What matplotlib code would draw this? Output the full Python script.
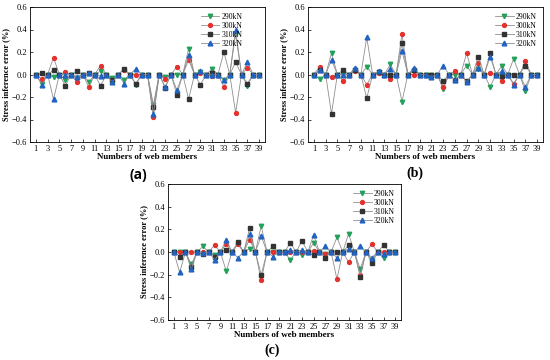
import matplotlib
matplotlib.use("Agg")
import matplotlib.pyplot as plt

plt.rcParams['font.family'] = ['Liberation Serif', 'DejaVu Serif']
plt.rcParams['axes.unicode_minus'] = True

members = list(range(1, 40))
loads = ['290kN', '300kN', '310kN', '320kN']

# (a)
a290 = [0, -0.08, 0, -0.02, 0, -0.05, 0, -0.03, 0, -0.07, 0, 0.03, 0, -0.03, 0, -0.05, 0, -0.09, 0, 0,
        -0.27, 0, -0.02, 0, 0.00, 0, 0.23, 0, 0.02, 0, 0.05, 0, -0.05, 0, 0.36, 0, -0.10, 0, 0]
a300 = [0, -0.04, 0, 0.15, 0, 0.02, 0, -0.07, 0, -0.11, 0, 0.08, 0, -0.06, 0, 0.04, 0, 0.00, 0, 0,
        -0.38, 0, -0.04, 0, 0.07, 0, 0.13, 0, 0.01, 0, -0.01, 0, -0.11, 0, -0.34, 0, 0.06, 0, 0]
a310 = [0, 0.01, 0, 0.04, 0, -0.10, 0, 0.03, 0, 0.01, 0, -0.10, 0, -0.05, 0, 0.05, 0, -0.08, 0, 0,
        -0.29, 0, -0.12, 0, -0.18, 0, -0.22, 0, -0.09, 0, 0.01, 0, 0.20, 0, 0.11, 0, -0.08, 0, 0]
a320 = [0, -0.09, 0, -0.22, 0, 0.00, 0, -0.02, 0, 0.01, 0, -0.01, 0, -0.07, 0, -0.08, 0, 0.05, 0, 0,
        -0.35, 0, -0.11, 0, -0.14, 0, 0.17, 0, 0.03, 0, 0.00, 0, -0.05, 0, 0.40, 0, 0.11, 0, 0]

# (b)
b290 = [0, -0.04, 0, 0.19, 0, 0.00, 0, 0.04, 0, 0.07, 0, 0.02, 0, 0.09, 0, -0.24, 0, 0.03, 0, 0,
        0.00, 0, -0.13, 0, 0.00, 0, 0.08, 0, 0.05, 0, -0.11, 0, 0.08, 0, 0.14, 0, -0.15, 0, 0]
b300 = [0, 0.07, 0, -0.02, 0, -0.06, 0, 0.03, 0, -0.09, 0, 0.01, 0, -0.04, 0, 0.36, 0, 0.00, 0, 0,
        -0.01, 0, -0.11, 0, 0.03, 0, 0.19, 0, 0.10, 0, 0.01, 0, -0.06, 0, -0.08, 0, 0.12, 0, 0]
b310 = [0, 0.04, 0, -0.35, 0, 0.04, 0, 0.04, 0, -0.21, 0, 0.02, 0, 0.00, 0, 0.28, 0, 0.04, 0, 0,
        0.00, 0, -0.06, 0, -0.05, 0, -0.06, 0, 0.16, 0, 0.19, 0, -0.01, 0, 0.00, 0, 0.08, 0, 0]
b320 = [0, 0.04, 0, 0.13, 0, 0.00, 0, 0.06, 0, 0.33, 0, 0.03, 0, 0.05, 0, 0.21, 0, 0.06, 0, 0,
        -0.02, 0, 0.08, 0, -0.05, 0, -0.07, 0, 0.06, 0, 0.16, 0, 0.03, 0, -0.09, 0, -0.11, 0, 0]

# (c)
c290 = [0, 0.00, 0, -0.11, 0, 0.05, 0, -0.03, 0, -0.17, 0, 0.07, 0, 0.03, 0, 0.23, 0, 0.00, 0, 0,
        -0.07, 0, -0.03, 0, 0.08, 0, -0.02, 0, 0.13, 0, 0.16, 0, -0.15, 0, -0.07, 0, -0.05, 0, 0]
c300 = [0, 0.00, 0, 0.00, 0, 0.00, 0, 0.06, 0, 0.07, 0, 0.07, 0, 0.11, 0, -0.25, 0, 0.00, 0, 0,
        0.00, 0, 0.00, 0, 0.01, 0, -0.02, 0, -0.24, 0, -0.09, 0, -0.20, 0, 0.07, 0, 0.00, 0, 0]
c310 = [0, -0.04, 0, -0.13, 0, -0.02, 0, -0.04, 0, 0.02, 0, 0.09, 0, 0.21, 0, -0.20, 0, 0.05, 0, 0,
        0.08, 0, 0.10, 0, -0.03, 0, -0.05, 0, 0.00, 0, 0.06, 0, -0.22, 0, -0.10, 0, 0.06, 0, 0]
c320 = [0, -0.18, 0, -0.15, 0, -0.01, 0, -0.07, 0, 0.11, 0, -0.05, 0, 0.16, 0, 0.14, 0, -0.04, 0, 0,
        0.02, 0, 0.02, 0, 0.15, 0, 0.05, 0, -0.05, 0, 0.03, 0, 0.05, 0, -0.05, 0, -0.02, 0, 0]

colors = ['#23a05a', '#e5312d', '#333333', '#2163c0']
markers = ['v', 'o', 's', '^']
msizes = [3.2, 2.8, 2.6, 3.4]


def draw_panel(ax, series, legend_x):
    for vals, lab, c, m, ms in zip(series, loads, colors, markers, msizes):
        ax.plot(members, vals, color='#8f8f8f', lw=0.6, marker=m, markersize=ms,
                markerfacecolor=c, markeredgecolor=c, label=lab)
    ax.set_xlim(0, 40)
    ax.set_ylim(-0.6, 0.6)
    ax.set_xticks(range(1, 40, 2))
    ax.set_yticks([-0.6, -0.4, -0.2, 0.0, 0.2, 0.4, 0.6])
    ax.set_yticklabels(['\u22120.6', '\u22120.4', '\u22120.2', '0.0', '0.2', '0.4', '0.6'])
    ax.tick_params(labelsize=6, direction='in', length=2, width=0.5, pad=2)
    for s in ax.spines.values():
        s.set_linewidth(0.6)
    ax.set_xlabel('Numbers of web members', fontsize=6.5, fontweight='bold', labelpad=0.5)
    ax.set_ylabel('Stress inference error (%)', fontsize=6, fontweight='bold', labelpad=1)
    ax.legend(loc='upper right', bbox_to_anchor=(legend_x, 1.0), frameon=False, fontsize=5.5,
              handlelength=2.4, handletextpad=0.3, labelspacing=0.12, borderpad=0.3)


fig = plt.figure(figsize=(5.5, 3.6), dpi=100)
W, H = 550.0, 360.0

ax_a = fig.add_axes([30 / W, 1 - 142 / H, 235 / W, 135 / H])
draw_panel(ax_a, [a290, a300, a310, a320], 0.93)

ax_b = fig.add_axes([308 / W, 1 - 142 / H, 235 / W, 135 / H])
draw_panel(ax_b, [b290, b300, b310, b320], 1.0)

ax_c = fig.add_axes([168 / W, 1 - 320 / H, 233 / W, 136 / H])
draw_panel(ax_c, [c290, c300, c310, c320], 1.0)

fig.text(138 / W, 1 - 175 / H, '(a)', fontsize=10, fontweight='bold',
         family=['Open Sans', 'DejaVu Sans'], ha='center', va='center')
fig.text(415 / W, 1 - 173 / H, '(b)', fontsize=10, fontweight='bold', ha='center', va='center')
fig.text(272 / W, 1 - 350 / H, '(c)', fontsize=10, fontweight='bold', ha='center', va='center')

fig.savefig('out.png', dpi=100)
